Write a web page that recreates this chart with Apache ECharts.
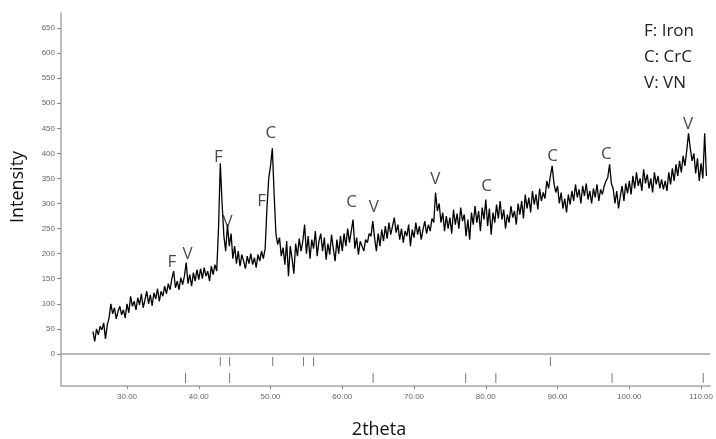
<!DOCTYPE html>
<html><head><meta charset="utf-8">
<script src="https://cdn.jsdelivr.net/npm/echarts@6/dist/echarts.min.js"></script>
<style>html,body{margin:0;padding:0;background:#fff}#c{width:716px;height:439px}</style>
</head><body><div id="c"></div>
<script>
// measurement grid (2theta, degrees)
const thetaStart = 25.25;
const thetaStep = 0.25;
// intensity, one value per 0.25 deg
const intensity = [
  // 25.25 - 29.75
  45,25,50,38,55,48,62,30,58,72,100,80,92,70,85,95,78,88,72,
  // 30 - 34.75
  100,82,115,95,105,88,112,98,120,92,108,125,100,118,96,122,110,130,105,125,
  // 35 - 39.75
  115,135,120,140,128,150,165,132,145,128,152,138,155,182,140,158,135,162,145,168,
  // 40 - 44.75
  148,170,150,172,155,165,145,175,158,178,165,250,380,300,235,205,258,215,240,190,
  // 45 - 49.75
  215,180,205,175,198,185,170,195,180,200,178,192,172,198,185,205,190,210,290,350,
  // 50 - 54.75
  375,410,320,240,218,232,195,212,178,225,155,215,190,160,220,195,230,205,225,258,
  // 55 - 59.75
  200,235,190,228,210,245,195,225,240,205,232,188,220,198,238,210,185,228,200,235,
  // 60 - 64.75
  205,240,215,250,222,245,268,210,232,198,225,215,205,228,222,240,235,265,232,205,
  // 65 - 69.75
  240,215,248,225,255,230,262,238,255,272,242,258,228,250,222,245,235,258,215,248,
  // 70 - 74.75
  232,262,238,255,228,248,265,240,258,245,270,262,322,285,300,262,282,245,275,250,
  // 75 - 79.75
  272,240,288,258,280,250,292,265,278,235,268,228,282,258,295,262,285,245,292,268,
  // 80 - 84.75
  308,255,290,238,282,262,298,270,305,268,288,250,278,262,295,272,285,258,300,278,
  // 85 - 89.75
  305,270,318,290,312,282,325,298,318,288,330,305,322,310,345,330,355,375,340,322,
  // 90 - 94.75
  335,300,322,290,310,282,318,298,325,305,338,312,328,300,335,315,340,308,325,300,
  // 95 - 99.75
  330,312,338,305,328,318,335,345,352,378,340,330,300,325,290,315,335,305,340,320,
  // 100 - 104.75
  345,318,355,330,362,335,350,325,368,340,358,330,350,322,362,338,355,330,348,328,
  // 105 - 109.75
  345,325,362,338,370,345,378,355,385,362,395,375,405,440,410,385,400,360,390,345,
  // 110 - 110.75
  380,350,440,355
];
const xTicks = [30,40,50,60,70,80,90,100,110];
const yTicks = [0,50,100,150,200,250,300,350,400,450,500,550,600,650];
// reference stick patterns (2theta positions)
const refRow1 = [43.0,44.3,50.3,54.6,56.0,89.0];
const refRow2 = [38.15,44.3,64.3,77.2,81.4,97.6,110.3];
// peak annotations
const peakText  = ['F','V','F','V','F','C','C','V','V','C','C','C','V'];
const peakTheta = [36.25,38.45,42.75,44.0,48.75,50.05,61.3,64.4,72.95,80.1,89.3,96.8,108.2];
const peakValue = [183,199,392,263,305,440,303,293,349,334,395,398,458];
const legendLines = ['F: Iron','C: CrC','V: VN'];
const xName = '2theta';
const yName = 'Intensity';

const FONT = '"Open Sans", "DejaVu Sans", sans-serif';
const lineData = intensity.map((v,i)=>[+(thetaStart + i*thetaStep).toFixed(2), v]);
const stickData = refRow1.map(t=>[t,1]).concat(refRow2.map(t=>[t,2]));
const rowSpan = {1:[-6,-24], 2:[-38,-58]};
const labelData = peakText.map((t,i)=>[peakTheta[i], peakValue[i], t]);

const chart = echarts.init(document.getElementById('c'), null, {renderer:'canvas'});
chart.setOption({
  animation:false,
  backgroundColor:'#fff',
  grid:{left:61, right:4, top:13, bottom:53},
  xAxis:{
    type:'value', min:20.8, max:111.3,
    axisLine:{show:true, onZero:false, lineStyle:{color:'#a8a8a8', width:1.5}},
    axisTick:{show:true, length:3, customValues:xTicks, lineStyle:{color:'#888'}},
    axisLabel:{customValues:xTicks, formatter:v=>v.toFixed(2), color:'#666', fontSize:8, fontFamily:'"Liberation Sans", sans-serif', margin:7},
    splitLine:{show:false}
  },
  yAxis:{
    type:'value', min:-64, max:680,
    axisLine:{show:true, onZero:false, lineStyle:{color:'#a8a8a8', width:1.5}},
    axisTick:{show:true, length:4, customValues:yTicks, lineStyle:{color:'#888'}},
    axisLabel:{customValues:yTicks, color:'#666', fontSize:8, fontFamily:'"Liberation Sans", sans-serif', margin:6},
    splitLine:{show:false}
  },
  series:[
    {
      type:'line', data:lineData, showSymbol:false, symbol:'none',
      lineStyle:{color:'#000', width:1.3}, z:3,
      markLine:{silent:true, symbol:'none', label:{show:false},
        lineStyle:{color:'#a0a0a0', width:1.5, type:'solid'},
        data:[{yAxis:0}]}
    },
    {
      type:'custom', data:stickData, z:2,
      renderItem:(params, api)=>{
        const t = api.value(0), r = api.value(1);
        const p1 = api.coord([t, rowSpan[r][0]]);
        const p2 = api.coord([t, rowSpan[r][1]]);
        return {type:'line', shape:{x1:p1[0], y1:p1[1], x2:p2[0], y2:p2[1]},
          style:{stroke:'#777', lineWidth:1}};
      }
    },
    {
      type:'scatter', data:labelData, symbolSize:0, z:4,
      label:{show:true, position:'inside', formatter:p=>p.data[2],
        color:'#1a1a1a', fontSize:17, fontFamily:FONT}
    }
  ],
  graphic:[
    {type:'text', x:18, y:187, rotation:Math.PI/2,
      style:{text:yName, font:'18px '+FONT, fill:'#111', textAlign:'center', textVerticalAlign:'middle'}},
    {type:'text', x:379, y:430,
      style:{text:xName, font:'18px '+FONT, fill:'#111', textAlign:'center', textVerticalAlign:'middle'}},
    {type:'text', x:644, y:31,
      style:{text:legendLines[0], font:'17px '+FONT, fill:'#222', textAlign:'left', textVerticalAlign:'middle'}},
    {type:'text', x:644, y:57,
      style:{text:legendLines[1], font:'17px '+FONT, fill:'#222', textAlign:'left', textVerticalAlign:'middle'}},
    {type:'text', x:644, y:83,
      style:{text:legendLines[2], font:'17px '+FONT, fill:'#222', textAlign:'left', textVerticalAlign:'middle'}}
  ]
});
</script>
</body></html>
